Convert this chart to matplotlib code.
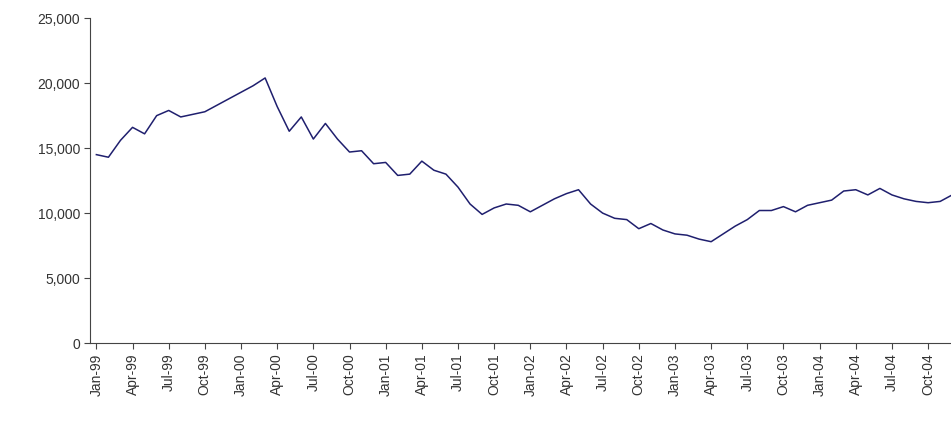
import matplotlib
matplotlib.use("Agg")
import matplotlib.pyplot as plt
import pandas as pd

values = [14500,14300,15600,16600,16100,17500,17900,17400,17600,17800,18300,18800,
          19300,19800,20400,18200,16300,17400,15700,16900,15700,14700,14800,13800,
          13900,12900,13000,14000,13300,13000,12000,10700,9900,10400,10700,10600,
          10100,10600,11100,11500,11800,10700,10000,9600,9500,8800,9200,8700,
          8400,8300,8000,7800,8400,9000,9500,10200,10200,10500,10100,10600,
          10800,11000,11700,11800,11400,11900,11400,11100,10900,10800,10900,11400]
dates = pd.date_range("1999-01-01", periods=len(values), freq="MS")
labels = [d.strftime("%b-%y") for d in dates]

plt.rcParams['font.family'] = ['Liberation Sans', 'DejaVu Sans']
fig = plt.figure(figsize=(9.51, 4.23), dpi=100)
ax = fig.add_axes([0.095, 0.189, 0.905, 0.768])
x = list(range(len(values)))
ax.plot(x, values, color="#1f1f6e", lw=1.1)
ax.set_xlim(-0.5, 70.9)
ax.set_ylim(0, 25000)
ax.set_yticks(range(0, 25001, 5000))
ax.set_yticklabels([f"{v:,}" for v in range(0, 25001, 5000)], fontsize=10, color="#333333")
ax.set_xticks(x[::3])
ax.set_xticklabels(labels[::3], rotation=90, fontsize=10, color="#333333")
for s in ["top", "right"]:
    ax.spines[s].set_visible(False)
for s in ["left", "bottom"]:
    ax.spines[s].set_color("#444444")
ax.tick_params(length=4, color="#444444")
fig.savefig("out.png", dpi=100)
